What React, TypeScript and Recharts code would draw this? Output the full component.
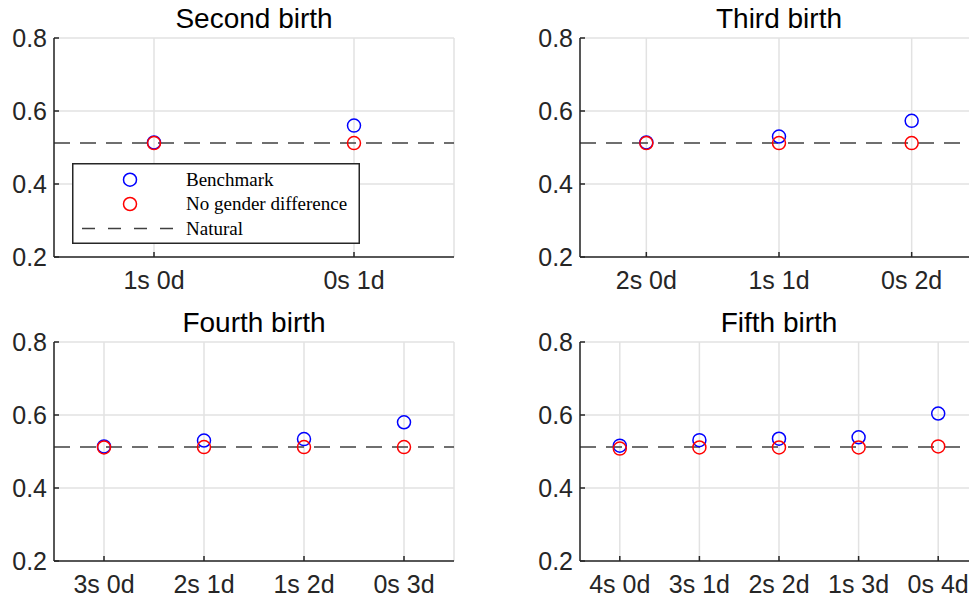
import React from 'react';
import { ScatterChart, Scatter, XAxis, YAxis, CartesianGrid, ReferenceLine, Legend } from 'recharts';

// sex-ratio style values
const natural = 0.512;
const yTicks = [0.2, 0.4, 0.6, 0.8];

const secondCats = ['1s 0d', '0s 1d'];
const secondBench = [0.514, 0.56];
const secondNoDiff = [0.512, 0.512];

const thirdCats = ['2s 0d', '1s 1d', '0s 2d'];
const thirdBench = [0.514, 0.53, 0.573];
const thirdNoDiff = [0.512, 0.512, 0.512];

const fourthCats = ['3s 0d', '2s 1d', '1s 2d', '0s 3d'];
const fourthBench = [0.514, 0.53, 0.534, 0.58];
const fourthNoDiff = [0.511, 0.512, 0.512, 0.512];

const fifthCats = ['4s 0d', '3s 1d', '2s 2d', '1s 3d', '0s 4d'];
const fifthBench = [0.516, 0.531, 0.535, 0.539, 0.604];
const fifthNoDiff = [0.508, 0.511, 0.511, 0.511, 0.514];

const legendNames = ['Benchmark', 'No gender difference', 'Natural'];

const BLUE = '#0000ff';
const RED = '#ff0000';
const AXIS = '#262626';
const SANS = '"Liberation Sans", Arial, Helvetica, sans-serif';

const ring = (color: string) => (props: any) => (
  <circle cx={props.cx} cy={props.cy} r={6.5} fill="none" stroke={color} strokeWidth={1.5} />
);

const LegendBox = () => (
  <svg width={288} height={81} style={{ display: 'block' }}>
    <rect x={0.75} y={0.75} width={286.5} height={79.5} fill="#fff" stroke={AXIS} strokeWidth={1.5} />
    <circle cx={58} cy={16.7} r={6.5} fill="none" stroke={BLUE} strokeWidth={1.5} />
    <circle cx={58} cy={41} r={6.5} fill="none" stroke={RED} strokeWidth={1.5} />
    <line x1={10} x2={103} y1={65.4} y2={65.4} stroke="#404040" strokeWidth={1.5} strokeDasharray="13 13" />
    {legendNames.map((n, i) => (
      <text key={n} x={114} y={16.7 + i * 24.4 + 6} fontSize={19} fontFamily='"Liberation Serif", "Times New Roman", serif' fill="#000">
        {n}
      </text>
    ))}
  </svg>
);

type PanelProps = {
  title: string;
  cats: string[];
  bench: number[];
  noDiff: number[];
  left: number;
  top: number;
  width: number;
  marginLeft: number;
  marginRight: number;
  showLegend?: boolean;
};

const Panel = ({ title, cats, bench, noDiff, left, top, width, marginLeft, marginRight, showLegend }: PanelProps) => {
  const benchData = bench.map((v, i) => ({ x: i + 1, y: v }));
  const noDiffData = noDiff.map((v, i) => ({ x: i + 1, y: v }));
  const xTicks = cats.map((_, i) => i + 1);
  const plotLeft = marginLeft + 50;
  const plotW = width - plotLeft - marginRight;
  return (
    <div style={{ position: 'absolute', left, top, width, height: 300 }}>
      <div
        style={{
          position: 'absolute',
          left: plotLeft,
          width: plotW,
          top: 5,
          textAlign: 'center',
          fontFamily: SANS,
          fontSize: 28,
          lineHeight: '28px',
          color: '#000',
          whiteSpace: 'nowrap',
        }}
      >
        {title}
      </div>
      <ScatterChart
        width={width}
        height={300}
        margin={{ top: 38, right: marginRight, bottom: 3, left: marginLeft }}
        style={{ position: 'absolute', left: 0, top: 0 }}
      >
        <CartesianGrid stroke="#e2e2e2" strokeWidth={1.5} />
        <XAxis
          type="number"
          dataKey="x"
          domain={[0.5, cats.length + 0.5]}
          ticks={xTicks}
          interval={0}
          tickFormatter={(v: number) => cats[v - 1]}
          height={40}
          tickSize={-5}
          tickMargin={19}
          axisLine={{ stroke: AXIS, strokeWidth: 1.5 }}
          tickLine={{ stroke: AXIS, strokeWidth: 1.5 }}
          tick={{ fontSize: 25, fill: AXIS, fontFamily: SANS }}
        />
        <YAxis
          type="number"
          dataKey="y"
          domain={[0.2, 0.8]}
          ticks={yTicks}
          interval={0}
          tickFormatter={(v: number) => v.toFixed(1)}
          width={50}
          tickSize={-5}
          tickMargin={12}
          axisLine={{ stroke: AXIS, strokeWidth: 1.5 }}
          tickLine={{ stroke: AXIS, strokeWidth: 1.5 }}
          tick={{ fontSize: 25, fill: AXIS, fontFamily: SANS }}
        />
        <ReferenceLine y={natural} stroke="#404040" strokeWidth={1.5} strokeDasharray="16 10" />
        <Scatter name="Benchmark" data={benchData} fill={BLUE} shape={ring(BLUE)} isAnimationActive={false} />
        <Scatter name="No gender difference" data={noDiffData} fill={RED} shape={ring(RED)} isAnimationActive={false} />
        {showLegend && (
          <Legend
            layout="horizontal"
            verticalAlign="middle"
            align="center"
            content={() => <LegendBox />}
            wrapperStyle={{ position: 'absolute', left: 72, top: 163.3, width: 288, height: 81 }}
          />
        )}
      </ScatterChart>
    </div>
  );
};

export default function App() {
  return (
    <div
      style={{
        position: 'absolute',
        left: 0,
        top: 0,
        width: 969,
        height: 603,
        overflow: 'hidden',
        background: '#fff',
      }}
    >
      <Panel title="Second birth" cats={secondCats} bench={secondBench} noDiff={secondNoDiff} left={0} top={0} width={480} marginLeft={4} marginRight={26} showLegend />
      <Panel title="Third birth" cats={thirdCats} bench={thirdBench} noDiff={thirdNoDiff} left={480} top={0} width={500} marginLeft={50} marginRight={2} />
      <Panel title="Fourth birth" cats={fourthCats} bench={fourthBench} noDiff={fourthNoDiff} left={0} top={304} width={480} marginLeft={4} marginRight={26} />
      <Panel title="Fifth birth" cats={fifthCats} bench={fifthBench} noDiff={fifthNoDiff} left={480} top={304} width={500} marginLeft={50} marginRight={2} />
    </div>
  );
}
